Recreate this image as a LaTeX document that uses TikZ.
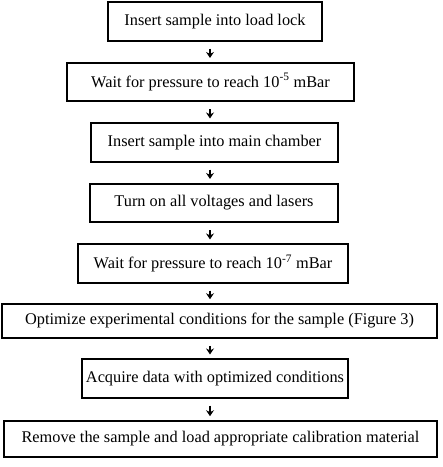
\documentclass[tikz,border=0pt]{standalone}
\usepackage{fontspec}
\setmainfont{Liberation Serif}
\usetikzlibrary{arrows.meta}
\begin{document}
\begin{tikzpicture}[x=1pt,y=-1pt,
  stepbox/.style={draw,line width=1.6pt,inner sep=0pt,minimum height=38.5,font=\fontsize{16.3}{18}\selectfont},
  arr/.style={line width=1.4pt,-{Stealth[length=6pt,width=8pt]},shorten <=7pt,shorten >=4pt}]
\useasboundingbox (0,0) rectangle (443,467);
\node[stepbox,minimum width=214] (b1) at (215,21.5) {Insert sample into load lock};
\node[stepbox,minimum width=287] (b2) at (210.5,82) {Wait for pressure to reach 10\textsuperscript{-5} mBar};
\node[stepbox,minimum width=247] (b3) at (214.5,142.5) {Insert sample into main chamber};
\node[stepbox,minimum width=248] (b4) at (214,203) {Turn on all voltages and lasers};
\node[stepbox,minimum width=270] (b5) at (213,263.5) {Wait for pressure to reach 10\textsuperscript{-7} mBar};
\node[stepbox,minimum width=435,minimum height=34] (b6) at (219.5,321) {Optimize experimental conditions for the sample (Figure 3)};
\node[stepbox,minimum width=266] (b7) at (215,378.5) {Acquire data with optimized conditions};
\node[stepbox,minimum width=433,minimum height=36] (b8) at (220.5,439) {Remove the sample and load appropriate calibration material};
\coordinate (xa) at (210,0);
\foreach \a/\b in {b1/b2,b2/b3,b3/b4,b4/b5,b5/b6,b6/b7,b7/b8}
  \draw[arr] (\a.south -| xa) -- (\b.north -| xa);
\end{tikzpicture}
\end{document}
